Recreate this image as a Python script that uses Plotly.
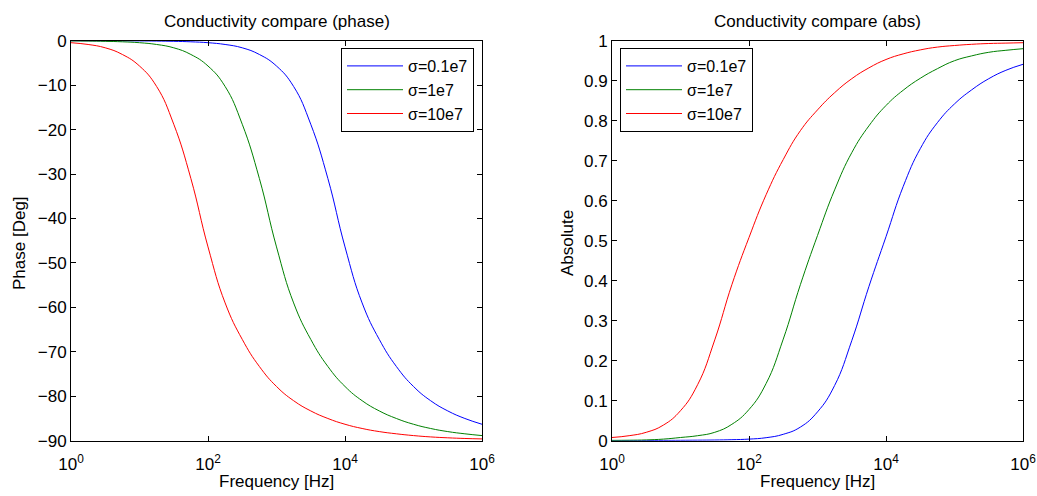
import plotly.graph_objects as go

# Frequency grid (Hz), quarter-decade steps from 10^0 to 10^6
freq = [1, 1.778, 3.162, 5.623, 10, 17.78, 31.62, 56.23, 100, 177.8, 316.2, 562.3,
        1000, 1778, 3162, 5623, 10000, 17780, 31620, 56230, 100000, 177800, 316200,
        562300, 1000000]

series_names = ["σ=0.1e7", "σ=1e7", "σ=10e7"]
series_colors = ["rgb(0,0,255)", "rgb(0,128,0)", "rgb(255,0,0)"]

# Phase [Deg]
phase_s01 = [0.0, -0.01, -0.02, -0.03, -0.05, -0.08, -0.14, -0.25, -0.45, -0.85, -1.6, -3.1,
             -5.7, -10.3, -18.8, -31.0, -46.4, -59.0, -67.2, -73.3, -77.8, -81.0, -83.3,
             -85.0, -86.3]
phase_s1 = [-0.05, -0.08, -0.14, -0.25, -0.45, -0.85, -1.6, -3.1, -5.7, -10.3, -18.8, -31.0,
            -46.4, -59.0, -67.2, -73.3, -77.8, -81.0, -83.3, -85.0, -86.3, -87.25, -87.95,
            -88.45, -88.85]
phase_s10 = [-0.45, -0.85, -1.6, -3.1, -5.7, -10.3, -18.8, -31.0, -46.4, -59.0, -67.2, -73.3,
             -77.8, -81.0, -83.3, -85.0, -86.3, -87.25, -87.95, -88.45, -88.85, -89.15,
             -89.35, -89.5, -89.6]

# Absolute
abs_s01 = [0.0, 0.0002, 0.0004, 0.0007, 0.001, 0.0013, 0.0017, 0.0025, 0.004, 0.0075, 0.016,
           0.034, 0.072, 0.138, 0.25, 0.385, 0.51, 0.635, 0.73, 0.795, 0.842, 0.877, 0.905,
           0.926, 0.941]
abs_s1 = [0.0008, 0.0012, 0.002, 0.004, 0.008, 0.0125, 0.021, 0.041, 0.078, 0.143, 0.254,
          0.39, 0.513, 0.627, 0.72, 0.787, 0.838, 0.876, 0.906, 0.93, 0.95, 0.962, 0.971,
          0.976, 0.98]
abs_s10 = [0.008, 0.0125, 0.021, 0.039, 0.075, 0.14, 0.252, 0.39, 0.508, 0.615, 0.703, 0.775,
           0.827, 0.87, 0.905, 0.932, 0.953, 0.967, 0.977, 0.984, 0.988, 0.991, 0.993,
           0.994, 0.995]

x_tickvals = [1, 100, 10000, 1000000]
x_ticktext = ["10<sup>0</sup>", "10<sup>2</sup>", "10<sup>4</sup>", "10<sup>6</sup>"]

FONT = "Liberation Sans"
FS = 17
W, H = 1037, 496

fig = go.Figure()

phase_sets = [phase_s01, phase_s1, phase_s10]
abs_sets = [abs_s01, abs_s1, abs_s10]

for i, (name, col) in enumerate(zip(series_names, series_colors)):
    fig.add_trace(go.Scatter(x=freq, y=phase_sets[i], mode="lines", name=name,
                             line=dict(color=col, width=1, shape="spline", smoothing=1.3),
                             xaxis="x", yaxis="y", legend="legend"))
for i, (name, col) in enumerate(zip(series_names, series_colors)):
    fig.add_trace(go.Scatter(x=freq, y=abs_sets[i], mode="lines", name=name,
                             line=dict(color=col, width=1, shape="spline", smoothing=1.3),
                             xaxis="x2", yaxis="y2", legend="legend2"))

ydom = [1 - 440.7 / H, 1 - 40.7 / H]
xdom1 = [71 / W, 482 / W]
xdom2 = [612 / W, 1023 / W]

axis_common = dict(showline=True, linecolor="black", linewidth=1, mirror="ticks",
                   ticks="inside", ticklen=5, tickcolor="black", tickwidth=1,
                   showgrid=False, zeroline=False, automargin=False,
                   tickfont=dict(family=FONT, size=FS, color="black"))

legend_common = dict(yanchor="top", bordercolor="black", borderwidth=1, bgcolor="white",
                     font=dict(family=FONT, size=16, color="black"), itemwidth=56,
                     traceorder="normal")

fig.update_layout(
    template="none",
    width=W, height=H,
    margin=dict(l=0, r=0, t=0, b=0, autoexpand=False),
    paper_bgcolor="white", plot_bgcolor="white",
    font=dict(family=FONT, size=FS, color="black"),
    xaxis=dict(domain=xdom1, type="log", range=[0, 6], tickvals=x_tickvals,
               ticktext=x_ticktext, anchor="y", ticklabelstandoff=8, **axis_common),
    yaxis=dict(domain=ydom, range=[-90, 0], dtick=10, anchor="x", **axis_common),
    xaxis2=dict(domain=xdom2, type="log", range=[0, 6], tickvals=x_tickvals,
                ticktext=x_ticktext, anchor="y2", ticklabelstandoff=8, **axis_common),
    yaxis2=dict(domain=ydom, range=[0, 1], dtick=0.1, anchor="x2", **axis_common),
    legend=dict(x=474 / W, y=1 - 48 / H, xanchor="right", **legend_common),
    legend2=dict(x=620 / W, y=1 - 48 / H, xanchor="left", **legend_common),
    showlegend=True,
)

ann = [
    dict(text="Conductivity compare (phase)", x=(xdom1[0] + xdom1[1]) / 2, y=1 - 21 / H),
    dict(text="Conductivity compare (abs)", x=(xdom2[0] + xdom2[1]) / 2, y=1 - 21 / H),
    dict(text="Frequency [Hz]", x=(xdom1[0] + xdom1[1]) / 2, y=1 - 481 / H),
    dict(text="Frequency [Hz]", x=(xdom2[0] + xdom2[1]) / 2, y=1 - 481 / H),
    dict(text="Phase [Deg]", x=19 / W, y=1 - 243 / H, textangle=-90),
    dict(text="Absolute", x=567 / W, y=1 - 243 / H, textangle=-90),
]
for a in ann:
    a.update(xref="paper", yref="paper", showarrow=False, xanchor="center",
             yanchor="middle", font=dict(family=FONT, size=FS, color="black"))
    fig.add_annotation(**a)

fig.write_html("out.html",
               config={"displayModeBar": False},
               post_script="document.body.style.margin='0px';"
                           "document.body.style.overflow='hidden';")
